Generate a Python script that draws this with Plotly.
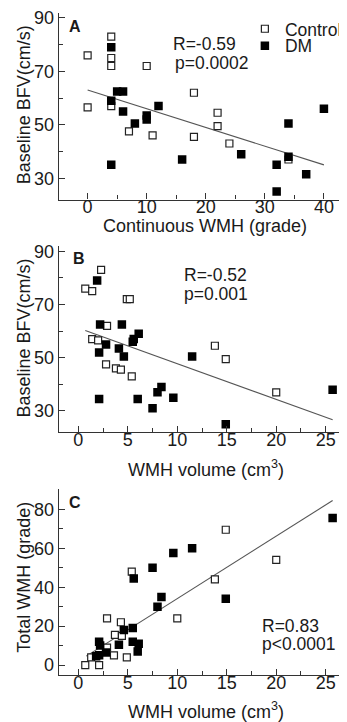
import plotly.graph_objects as go

# page is 347x722; the html body has an 8px margin, so the figure is 339x714
PAGE_OFF = 8
W, H = 347 - PAGE_OFF, 722 - PAGE_OFF

# ---------------- data ----------------
# Panel A: Continuous WMH (grade) vs Baseline BFV (cm/s)
a_ctrl_x = [0, 4, 4, 4, 10, 18, 0, 4, 22, 7, 11, 18, 22, 24, 34]
a_ctrl_y = [76, 83, 75, 72, 72, 62, 56.5, 57, 54.5, 47.5, 46, 45.5, 49.5, 43, 37]
a_dm_x = [4, 4, 5, 6, 6, 12, 10, 10, 8, 26, 16, 4, 34, 34, 32, 32, 37, 40]
a_dm_y = [79, 59, 62.5, 62.5, 55, 57, 53.5, 52, 50.5, 39, 37, 35, 50.5, 38, 35, 25, 31.5, 56]
a_fit_x = [0, 40]
a_fit_y = [63, 35]

# Panel B: WMH volume (cm3) vs Baseline BFV (cm/s)
b_ctrl_x = [2.3, 0.7, 1.4, 4.9, 5.2, 2.9, 1.4, 2.0, 13.8, 14.9, 2.8, 3.8, 4.3, 5.4, 20.0]
b_ctrl_y = [83, 76, 75, 72, 72, 62, 57, 56.5, 54.5, 49.5, 47.5, 46, 45.5, 43, 37]
b_dm_x = [1.9, 2.2, 4.4, 6.1, 5.6, 5.5, 2.8, 4.1, 2.1, 4.6, 11.5, 2.1, 6.0, 7.5, 8.0, 8.4, 9.6, 14.9, 25.7]
b_dm_y = [79, 62.5, 62.5, 59, 57, 56, 55, 53.5, 52, 50.5, 50.5, 34.5, 34.5, 31, 37, 39, 35, 25, 38]
b_fit_x = [0.7, 25.7]
b_fit_y = [60.2, 26.7]

# Panel C: WMH volume (cm3) vs Total WMH (grade)
c_ctrl_x = [14.9, 20.0, 5.4, 13.8, 10.0, 2.9, 4.3, 3.7, 4.4, 2.9, 3.6, 4.9, 0.7, 2.1, 1.3]
c_ctrl_y = [69.5, 54, 48, 44, 24, 24, 22, 15.5, 15, 9, 5, 4, 0, 0, 4]
c_dm_x = [25.7, 11.5, 9.6, 7.5, 5.6, 8.4, 14.9, 8.0, 5.5, 4.6, 2.1, 2.2, 5.5, 6.1, 6.0, 4.1, 2.8, 1.8, 2.1]
c_dm_y = [75.5, 60, 57.5, 50, 44.5, 35, 34, 30, 19, 18, 12, 10, 12, 11, 7, 10.5, 6.5, 4.5, 5]
c_fit_x = [0.8, 25.7]
c_fit_y = [4.6, 84.5]

panel_labels = ["A", "B", "C"]
stats_r = ["R=-0.59", "R=-0.52", "R=0.83"]
stats_p = ["p=0.0002", "p=0.001", "p<0.0001"]
x_titles = ["Continuous WMH (grade)", "WMH volume (cm<sup>3</sup>)", "WMH volume (cm<sup>3</sup>)"]
y_titles = ["Baseline BFV(cm/s)", "Baseline BFV(cm/s)", "Total WMH (grade)"]
legend_names = ["Control", "DM"]

# ---------------- style ----------------
FONT = "Liberation Sans, Arial, sans-serif"
TXT = "#1a1a1a"
AX = "#333333"


def px(x):  # page pixel -> paper fraction
    return (x - PAGE_OFF) / W


def py(y):
    return 1 - (y - PAGE_OFF) / H


fig = go.Figure()

panels = [
    (a_ctrl_x, a_ctrl_y, a_dm_x, a_dm_y, a_fit_x, a_fit_y),
    (b_ctrl_x, b_ctrl_y, b_dm_x, b_dm_y, b_fit_x, b_fit_y),
    (c_ctrl_x, c_ctrl_y, c_dm_x, c_dm_y, c_fit_x, c_fit_y),
]

for i, (cx, cy, dx, dy, fx, fy) in enumerate(panels):
    sx = "" if i == 0 else str(i + 1)
    xa, ya = "x" + sx, "y" + sx
    fig.add_trace(go.Scatter(x=fx, y=fy, mode="lines", xaxis=xa, yaxis=ya,
                             line=dict(color="#555555", width=1.1),
                             showlegend=False, hoverinfo="skip"))
    fig.add_trace(go.Scatter(x=cx, y=cy, mode="markers", xaxis=xa, yaxis=ya,
                             name=legend_names[0], showlegend=(i == 0), legend="legend",
                             marker=dict(symbol="square", size=7, color="white",
                                         line=dict(color="#222222", width=1.2))))
    fig.add_trace(go.Scatter(x=dx, y=dy, mode="markers", xaxis=xa, yaxis=ya,
                             name=legend_names[1], showlegend=(i == 0), legend="legend2",
                             marker=dict(symbol="square", size=8.5, color="black",
                                         line=dict(width=0))))

# axis geometry (page pixels)
x_left = 59.3
y_dom = [(8.6, 196.9), (243.6, 431.2), (488.8, 675.5)]
y_rng = [[22, 92], [22, 92], [-5, 90.2]]
x_rng = [[-4.87, 43.4], [-1.97, 26.85], [-1.97, 26.85]]
x_dtick = [10, 5, 5]
x_minor = [5, 2.5, 2.5]
y_dtick = [20, 20, 20]
y_tick0 = [10, 10, 0]
y_minor = [10, 10, 10]

common = dict(showline=True, linecolor=AX, linewidth=1.3, ticks="inside",
              ticklen=6, tickwidth=1.3, tickcolor=AX, showgrid=False,
              zeroline=False, tickfont=dict(family=FONT, size=18, color=TXT))

for i in range(3):
    sx = "" if i == 0 else str(i + 1)
    top, bot = y_dom[i]
    fig.layout["xaxis" + sx] = dict(
        domain=[px(x_left), 1], range=x_rng[i], anchor="y" + sx,
        dtick=x_dtick[i], tick0=0,
        minor=dict(dtick=x_minor[i], tick0=0, ticks="inside", ticklen=4,
                   tickwidth=1.2, tickcolor=AX),
        ticklabelstandoff=-9, **common)
    fig.layout["yaxis" + sx] = dict(
        domain=[py(bot), py(top)], range=y_rng[i], anchor="x" + sx,
        dtick=y_dtick[i], tick0=y_tick0[i],
        minor=dict(dtick=y_minor[i], tick0=0, ticks="inside", ticklen=4,
                   tickwidth=1.2, tickcolor=AX),
        ticklabelstandoff=0, **common)

ann = []
lab_pos = [(68, 22.5), (71.5, 256), (68, 501.7)]
for i, (lx, ly) in enumerate(lab_pos):
    ann.append(dict(text="<b>%s</b>" % panel_labels[i], x=px(lx), y=py(ly),
                    xanchor="left", yanchor="middle", font=dict(size=16)))
r_pos = [(172, 40.5), (184, 272.5), (262, 626.7)]
p_pos = [(174, 59), (184, 291.7), (262, 644.5)]
for i in range(3):
    ann.append(dict(text=stats_r[i], x=px(r_pos[i][0]), y=py(r_pos[i][1]),
                    xanchor="left", yanchor="middle", font=dict(size=17.5)))
    ann.append(dict(text=stats_p[i], x=px(p_pos[i][0]), y=py(p_pos[i][1]),
                    xanchor="left", yanchor="middle", font=dict(size=17.5)))
xt_pos = [(207, 224), (208, 468), (208, 711)]
yt_pos = [(24, 101), (24, 336), (24, 577)]
for i in range(3):
    ann.append(dict(text=x_titles[i], x=px(xt_pos[i][0]), y=py(xt_pos[i][1]),
                    xanchor="center", yanchor="middle", font=dict(size=18)))
    ann.append(dict(text=y_titles[i], x=px(yt_pos[i][0]), y=py(yt_pos[i][1]),
                    xanchor="center", yanchor="middle", textangle=-90,
                    font=dict(size=18)))
for a in ann:
    a.update(xref="paper", yref="paper", showarrow=False)
    a["font"].update(family=FONT, color=TXT)

leg_common = dict(xanchor="left", yanchor="middle", bgcolor="rgba(0,0,0,0)",
                  font=dict(family=FONT, size=17.5, color=TXT), itemwidth=30,
                  borderwidth=0)
fig.update_layout(
    width=W, height=H, margin=dict(l=0, r=0, t=0, b=0),
    paper_bgcolor="white", plot_bgcolor="white",
    font=dict(family=FONT, color=TXT),
    annotations=ann,
    legend=dict(x=px(247), y=py(25), **leg_common),
    legend2=dict(x=px(247), y=py(42), **leg_common),
)

fig.write_html("out.html")
